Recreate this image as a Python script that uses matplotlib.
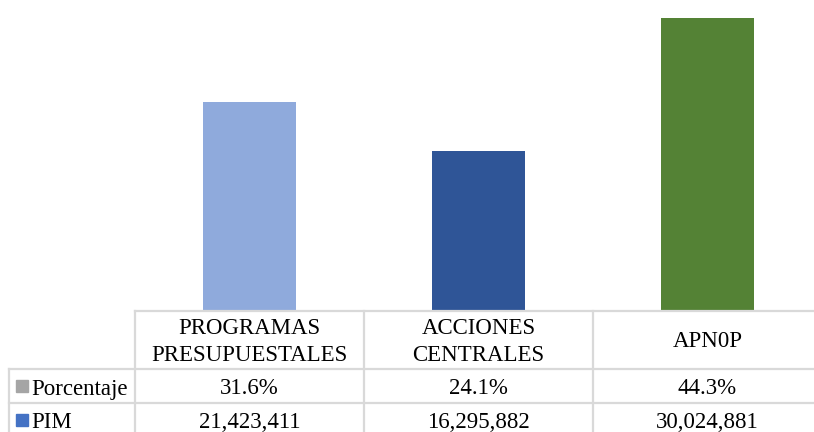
import matplotlib.pyplot as plt
from matplotlib.transforms import blended_transform_factory
from matplotlib.patches import Rectangle

# ---------------------------------------------------------------
#   data
# ---------------------------------------------------------------
categorias = ["PROGRAMAS\nPRESUPUESTALES", "ACCIONES\nCENTRALES", "APN0P"]
porcentaje = [31.6, 24.1, 44.3]
pim = [21423411, 16295882, 30024881]
filas = ["Porcentaje", "PIM"]

colores_barras = ["#8FAADC", "#2F5597", "#548235"]
colores_leyenda = ["#A5A5A5", "#4472C4"]
gris = "#D9D9D9"

plt.rcParams['font.family'] = ['Liberation Serif', 'DejaVu Serif']

W, H = 814, 432
fig = plt.figure(figsize=(W / 100, H / 100), dpi=100)

# pixel -> figure fraction helpers
fx = lambda px: px / W
fy = lambda py: 1 - py / H

base = 310.7
ax = fig.add_axes([fx(135), fy(base), (822 - 135) / W, base / H])
x = range(len(categorias))
ax.bar(x, porcentaje, width=0.405, color=colores_barras, zorder=2)
ax.set_xlim(-0.5, len(categorias) - 0.5)
ax.set_ylim(0, 47)
ax.axis("off")

# ---------------------------------------------------------------
#   data table below the bars
# ---------------------------------------------------------------
tr = blended_transform_factory(ax.transData, fig.transFigure)
lw = 1.6
y_rows = [base, 369, 403, 437]

# horizontal lines (header row only under the category columns)
fig.add_artist(plt.Line2D([-0.5, 3], [fy(base), fy(base)],
                          color=gris, lw=lw, transform=tr))
for py in y_rows[1:]:
    fig.add_artist(plt.Line2D([fx(9), fx(W + 10)], [fy(py), fy(py)],
                              color=gris, lw=lw, transform=fig.transFigure))
# vertical lines
fig.add_artist(plt.Line2D([fx(9), fx(9)], [fy(369), fy(440)],
                          color=gris, lw=lw, transform=fig.transFigure))
for i in range(len(categorias) + 1):
    fig.add_artist(plt.Line2D([i - 0.5, i - 0.5], [fy(base), fy(440)],
                              color=gris, lw=lw, transform=tr))

fs = 16.5
cap = 7.5       # half cap height in px
gap = 26.7      # line spacing in px

for i, cat in enumerate(categorias):
    lineas = cat.split("\n")
    n = len(lineas)
    yc = (base + 369) / 2
    for k, t in enumerate(lineas):
        yb = yc + (k - (n - 1) / 2) * gap + cap
        fig.text(i, fy(yb), t, transform=tr, ha="center", va="baseline",
                 fontsize=fs)
    fig.text(i, fy((369 + 403) / 2 + cap + 1), f"{porcentaje[i]:.1f}%",
             transform=tr, ha="center", va="baseline", fontsize=fs)
    fig.text(i, fy((403 + 437) / 2 + cap + 1), f"{pim[i]:,}", transform=tr,
             ha="center", va="baseline", fontsize=fs)

# row labels with legend keys
for j, nombre in enumerate(filas):
    yc = (y_rows[j + 1] + y_rows[j + 2]) / 2
    fig.add_artist(Rectangle((fx(16), fy(yc + 5.8)), 11.5 / W, 11.5 / H,
                             color=colores_leyenda[j], transform=fig.transFigure))
    fig.text(fx(31), fy(yc + cap + 1), nombre, ha="left", va="baseline",
             fontsize=fs)

fig.savefig("out.png", dpi=100)
